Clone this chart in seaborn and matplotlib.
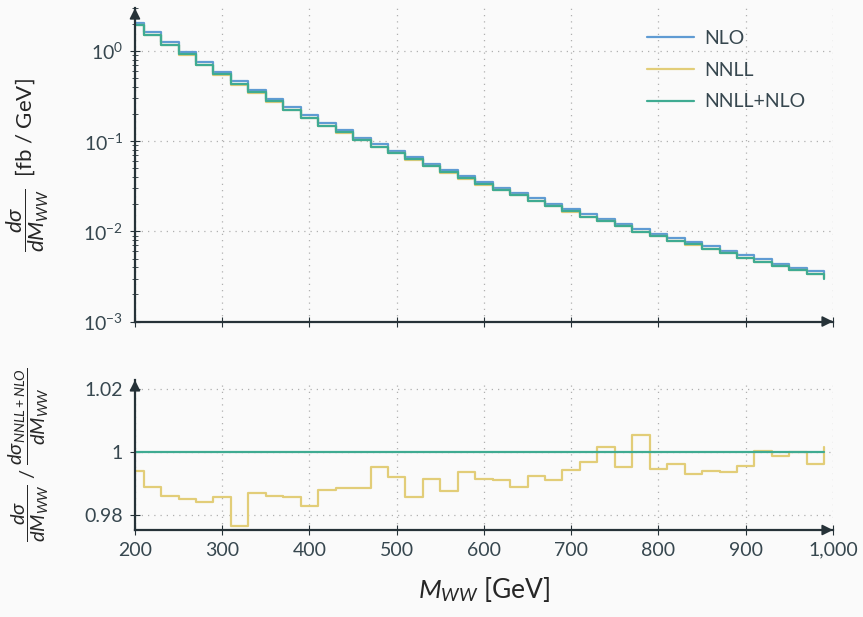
import numpy as np
import pandas as pd
import matplotlib
matplotlib.use('Agg')
import matplotlib.pyplot as plt
import seaborn as sns

# step edges in M_WW [GeV]: first half bin, then 20 GeV bins, last point closes the plot
m_ww = [200, 210, 230, 250, 270, 290, 310, 330, 350, 370, 390, 410, 430, 450,
        470, 490, 510, 530, 550, 570, 590, 610, 630, 650, 670, 690, 710, 730,
        750, 770, 790, 810, 830, 850, 870, 890, 910, 930, 950, 970, 990]

nlo = [2.06, 1.61, 1.25, 0.97, 0.75, 0.585, 0.46, 0.369, 0.293, 0.237, 0.194,
       0.158, 0.132, 0.110, 0.092, 0.078, 0.067, 0.0565, 0.048, 0.041, 0.0353,
       0.0306, 0.0269, 0.0233, 0.0203, 0.0177, 0.0155, 0.0136, 0.0122, 0.0105,
       0.0094, 0.0084, 0.0076, 0.0068, 0.0061, 0.0054, 0.0049, 0.0043, 0.0039,
       0.0036, 0.0034]

nnll_nlo = [1.947, 1.521, 1.181, 0.917, 0.709, 0.553, 0.435, 0.349, 0.277,
            0.224, 0.183, 0.149, 0.125, 0.104, 0.0869, 0.0737, 0.0633, 0.0534,
            0.0454, 0.0387, 0.0334, 0.0289, 0.0254, 0.0220, 0.0192, 0.0167,
            0.0146, 0.0129, 0.0115, 0.0099, 0.0089, 0.0079, 0.0072, 0.0064,
            0.0058, 0.0051, 0.0046, 0.0041, 0.0037, 0.0034, 0.0030]

# NNLL / (NNLL+NLO)
ratio_nnll = [0.9940, 0.9889, 0.9860, 0.9852, 0.9842, 0.9857, 0.9766, 0.9870,
              0.9861, 0.9858, 0.9830, 0.9880, 0.9886, 0.9885, 0.9953, 0.9921,
              0.9857, 0.9915, 0.9877, 0.9938, 0.9913, 0.9910, 0.9890, 0.9924,
              0.9911, 0.9943, 0.9967, 1.0017, 0.9952, 1.0054, 0.9946, 0.9963,
              0.9930, 0.9941, 0.9938, 0.9956, 1.0004, 0.9989, 1.0000, 0.9963,
              1.0015]
ratio_nnll_nlo = [1.0] * len(m_ww)

series = ['NLO', 'NNLL', 'NNLL+NLO']
colors = {'NLO': '#5f9bd3', 'NNLL': '#e2cd78', 'NNLL+NLO': '#3fab92'}

nnll = list(np.array(nnll_nlo) * np.array(ratio_nnll))

top = pd.DataFrame({
    'm_ww': m_ww * 3,
    'xsec': nlo + nnll + nnll_nlo,
    'series': ['NLO'] * len(m_ww) + ['NNLL'] * len(m_ww) + ['NNLL+NLO'] * len(m_ww),
})
bottom = pd.DataFrame({
    'm_ww': m_ww * 2,
    'ratio': ratio_nnll + ratio_nnll_nlo,
    'series': ['NNLL'] * len(m_ww) + ['NNLL+NLO'] * len(m_ww),
})

# -------------
# style
# -------------
bg = '#fafafa'
axcol = '#263238'
txt = '#37474f'
sns.set_theme(style='ticks')
plt.rcParams['font.family'] = ['Lato', 'DejaVu Sans']
plt.rcParams['mathtext.fontset'] = 'custom'
plt.rcParams['mathtext.rm'] = 'Lato'
plt.rcParams['mathtext.it'] = 'Lato:italic'
plt.rcParams['text.color'] = txt
plt.rcParams['xtick.color'] = axcol
plt.rcParams['ytick.color'] = axcol
plt.rcParams['xtick.labelcolor'] = txt
plt.rcParams['ytick.labelcolor'] = txt

fig = plt.figure(figsize=(8.63, 6.17), dpi=100, facecolor=bg)
ax1 = fig.add_axes([0.1564, 0.4789, 0.8088, 0.508])
ax2 = fig.add_axes([0.1564, 0.1410, 0.8088, 0.2431])

for ax in (ax1, ax2):
    ax.set_facecolor(bg)

sns.lineplot(data=top, x='m_ww', y='xsec', hue='series', hue_order=series,
             palette=colors, estimator=None, drawstyle='steps-post',
             linewidth=1.6, ax=ax1)
sns.lineplot(data=bottom, x='m_ww', y='ratio', hue='series',
             hue_order=['NNLL', 'NNLL+NLO'], palette=colors, estimator=None,
             drawstyle='steps-post', linewidth=1.6, ax=ax2, legend=False)

ax1.set_yscale('log')
ax1.set_ylim(1e-3, 3)
ax2.set_ylim(0.97524, 1.0229)
ax2.set_yticks([0.98, 1.0, 1.02])
ax2.set_yticklabels(['0.98', '1', '1.02'])

for ax in (ax1, ax2):
    ax.set_xlim(200, 1000)
    ax.set_xticks(range(200, 1001, 100))
    ax.grid(True, which='major', linestyle=(0, (1, 4)), color='#b0b0b0',
            linewidth=0.9)
    for s in ['top', 'right']:
        ax.spines[s].set_visible(False)
    for s in ['left', 'bottom']:
        ax.spines[s].set_color(axcol)
        ax.spines[s].set_linewidth(1.6)
    ax.tick_params(which='major', direction='inout', length=7, width=0.8,
                   labelsize=14, pad=5)
    ax.tick_params(which='minor', direction='inout', length=4, width=0.6)
    ax.set_xlabel('')
    ax.set_ylabel('')
    # pgfplots-like axis arrow heads
    ax.annotate('', xy=(0, 1.0), xycoords='axes fraction', xytext=(0, 0.99),
                arrowprops=dict(arrowstyle='-|>', color=axcol, lw=1.2,
                                mutation_scale=16, shrinkA=0, shrinkB=0))
    ax.annotate('', xy=(1.0, 0), xycoords='axes fraction', xytext=(0.995, 0),
                arrowprops=dict(arrowstyle='-|>', color=axcol, lw=1.2,
                                mutation_scale=16, shrinkA=0, shrinkB=0))

ax1.tick_params(axis='x', labelbottom=False)
ax2.set_xticklabels(['200', '300', '400', '500', '600', '700', '800', '900', '1,000'])

ax2.set_xlabel(r'$M_{WW}$ [GeV]', fontsize=19, labelpad=12)
ax1.set_ylabel(r'$\dfrac{d\sigma}{dM_{WW}}$  [fb / GeV]', fontsize=16)
ax2.set_ylabel(r'$\dfrac{d\sigma}{dM_{WW}}$ / $\dfrac{d\sigma_{NNLL+NLO}}{dM_{WW}}$',
               fontsize=14.5)
ax1.yaxis.set_label_coords(-0.12, 0.5)
ax2.yaxis.set_label_coords(-0.12, 0.5)

handles, labels = ax1.get_legend_handles_labels()
ax1.legend(handles, labels, loc='upper right', bbox_to_anchor=(0.985, 0.985),
           frameon=False, fontsize=14, handlelength=2.4, labelspacing=0.75,
           handletextpad=0.5)

plt.savefig('out.png', dpi=100, facecolor=bg)
